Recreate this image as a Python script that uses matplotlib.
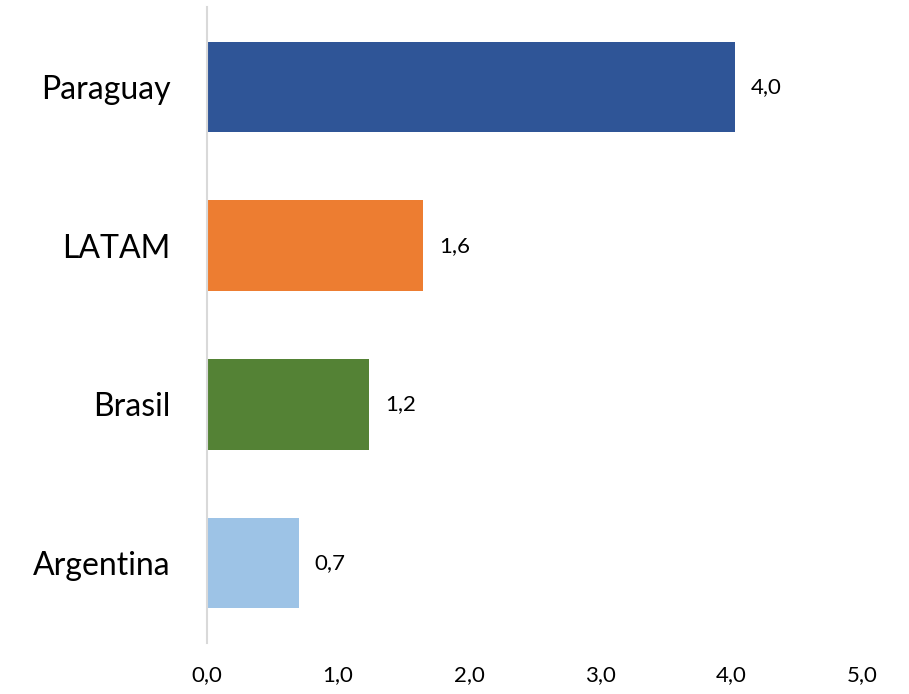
import matplotlib
matplotlib.use('Agg')
import matplotlib.pyplot as plt

# data
countries = ['Argentina', 'Brasil', 'LATAM', 'Paraguay']
values = [0.70, 1.24, 1.65, 4.03]
colors = ['#9DC3E6', '#548235', '#ED7D31', '#2F5597']
xticks = [0, 1, 2, 3, 4, 5]

plt.rcParams['font.family'] = ['Lato', 'DejaVu Sans']

fig = plt.figure(figsize=(9.09, 6.94), dpi=100)
ax = fig.add_axes([0.2277, 0.0742, 0.7206, 0.915])

pos = range(len(countries))
ax.barh(pos, values, height=0.57, color=colors)

# value labels, decimal comma
for y, v in zip(pos, values):
    ax.text(v + 0.12, y, f'{v:.1f}'.replace('.', ','), va='center', ha='left', fontsize=16)

ax.set_xlim(0, 5)
ax.set_ylim(-0.5, 3.5)
ax.set_yticks(list(pos))
ax.set_yticklabels(countries, fontsize=23)
ax.set_xticks(xticks)
ax.set_xticklabels([f'{t:.1f}'.replace('.', ',') for t in xticks], fontsize=16)
ax.tick_params(axis='both', length=0)
ax.tick_params(axis='y', pad=26)
ax.tick_params(axis='x', pad=16)

for s in ['top', 'right', 'bottom']:
    ax.spines[s].set_visible(False)
ax.spines['left'].set_color('#D9D9D9')
ax.spines['left'].set_linewidth(1.5)

fig.savefig('out.png', dpi=100)
